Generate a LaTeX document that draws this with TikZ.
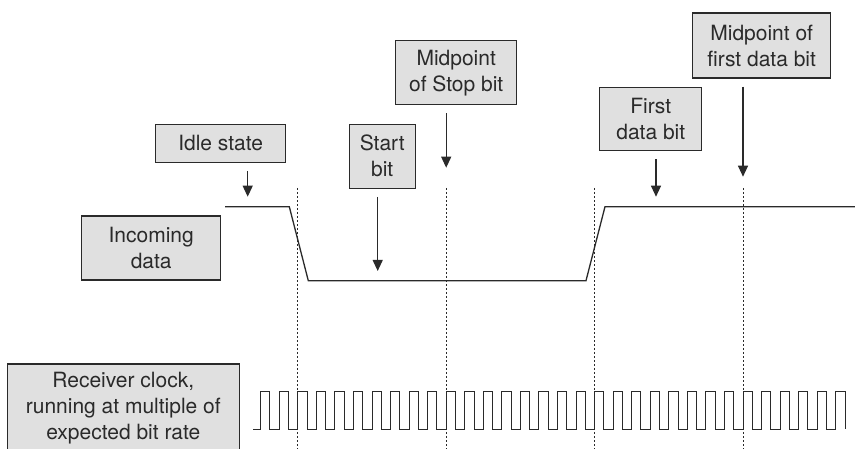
\documentclass[tikz,border=0pt]{standalone}
\usepackage{fontspec}
\setmainfont{TeX Gyre Heros}
\usepackage{xcolor}
\usepackage{tikz}
\usetikzlibrary{arrows.meta, positioning}

\definecolor{boxgray}{HTML}{E0E0E0}
\definecolor{inkgray}{HTML}{2A2A2A}

\tikzset{
  labelbox/.style={draw=inkgray, fill=boxgray, line width=1.2pt, rectangle,
    align=center, inner sep=0pt, text=inkgray,
    font=\fontsize{21}{26}\selectfont},
  pointer/.style={draw=inkgray, line width=1.1pt, shorten <=8pt,
    -{Triangle[length=11pt, width=10pt]}},
  guide/.style={draw=inkgray, line width=0.8pt, dash pattern=on 2pt off 2pt},
  wave/.style={draw=inkgray, line width=1.3pt},
}

\begin{document}
\begin{tikzpicture}[x=1pt, y=-1pt]
        \useasboundingbox (0,0) rectangle (855,449);

        % Labels
        \node[labelbox, minimum width=130pt, minimum height=38pt] (idle) at (220.7,143.2) {Idle state};
        \node[labelbox, minimum width=66pt, minimum height=64pt] (startb) at (382.2,156.2) {Start\\bit};
        \node[labelbox, minimum width=121pt, minimum height=64pt] (midstop) at (456.2,72.9) {Midpoint\\of Stop bit};
        \node[labelbox, minimum width=102pt, minimum height=63pt] (firstd) at (650.8,119) {First\\data bit};
        \node[labelbox, minimum width=138pt, minimum height=65pt] (midfirst) at (761.7,45.5) {Midpoint of\\first data bit};
        \node[labelbox, minimum width=139pt, minimum height=64pt] (incoming) at (151.2,248) {Incoming\\data};
        \node[labelbox, minimum width=232pt, minimum height=88pt] (receiver) at (123.3,408) {Receiver clock,\\running at multiple of\\expected bit rate};

        % Sampling instants
        \foreach \n/\x in {a/297.8, b/446.2, c/594.6, d/743.0} {
            \coordinate (top\n) at (\x,188);
            \coordinate (bot\n) at (\x,452);
            \draw[guide] (top\n) -- (bot\n);
        }

        % Incoming data
        \draw[wave] (225,206.7) -- (289.3,206.7) -- (308.3,280.7) -- (586,280.7)
            -- (605,206.7) -- (855,206.7);

        % Receiver clock
        \draw[draw=inkgray, line width=1pt] (253,429)
            \foreach \k in {0,...,31} {
                -- ({260.7+\k*18.55},429) -- ({260.7+\k*18.55},391.7)
                -- ({260.7+\k*18.55+9.28},391.7) -- ({260.7+\k*18.55+9.28},429)
            };

        % Arrows
        \coordinate (idletip) at (247.7,196.7);
        \coordinate (starttip) at (377.7,271);
        \coordinate (stoptip) at (446.2,167.7);
        \coordinate (firsttip) at (656,196.7);
        \coordinate (midtip) at (743,176.7);
        \draw[pointer] (idle.south -| idletip) -- (idletip);
        \draw[pointer] (startb.south -| starttip) -- (starttip);
        \draw[pointer] (midstop.south -| stoptip) -- (stoptip);
        \draw[pointer] (firstd.south -| firsttip) -- (firsttip);
        \draw[pointer] (midfirst.south -| midtip) -- (midtip);
    \end{tikzpicture}
\end{document}
